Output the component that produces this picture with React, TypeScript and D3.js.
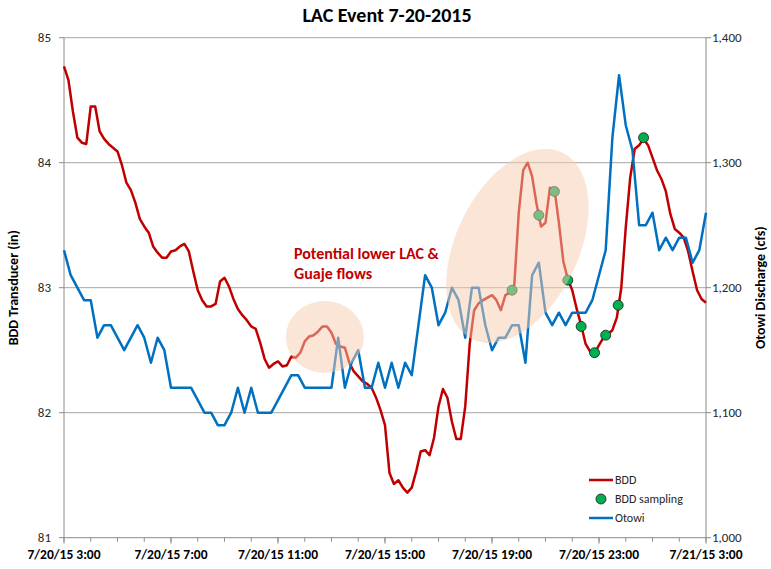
import React from 'react';
import * as d3 from 'd3';

// ---- data ----
const START = '07/20/15 03:00';
const END = '07/21/15 03:00';

// BDD transducer (in), every 10 minutes from 7/20/15 3:00
const bddStepMinutes = 10;
const bddValues = [
  84.77, 84.66, 84.41, 84.2, 84.16, 84.15, 84.45, 84.45, 84.25, 84.19,
  84.15, 84.12, 84.09, 83.98, 83.84, 83.78, 83.68, 83.55, 83.49, 83.44,
  83.33, 83.28, 83.24, 83.24, 83.29, 83.3, 83.33, 83.35, 83.29, 83.13,
  82.98, 82.9, 82.85, 82.85, 82.87, 83.05, 83.08, 83.01, 82.91, 82.83,
  82.78, 82.74, 82.69, 82.67, 82.56, 82.43, 82.36, 82.39, 82.41, 82.37,
  82.38, 82.45, 82.44, 82.48, 82.57, 82.61, 82.62, 82.65, 82.69, 82.69,
  82.64, 82.55, 82.53, 82.52, 82.4, 82.33, 82.29, 82.25, 82.23, 82.2,
  82.12, 82.02, 81.9, 81.52, 81.43, 81.46, 81.4, 81.36, 81.4, 81.53,
  81.69, 81.7, 81.66, 81.8, 82.05, 82.19, 82.12, 81.93, 81.79, 81.79,
  82.05, 82.55, 82.82, 82.875, 82.9, 82.92, 82.94, 82.9, 82.82, 82.94,
  82.96, 83.02, 83.6, 83.94, 84.0, 83.89, 83.67, 83.49, 83.52, 83.8,
  83.79, 83.52, 83.21, 83.07, 82.98, 82.83, 82.7, 82.55, 82.49, 82.475,
  82.54, 82.6, 82.63, 82.66, 82.76, 83.0, 83.48, 83.88, 84.11, 84.14,
  84.19, 84.14, 84.04, 83.94, 83.87, 83.77, 83.59, 83.47, 83.44, 83.4,
  83.29, 83.13, 82.98, 82.91, 82.88,
];

// Otowi discharge (cfs), every 15 minutes from 7/20/15 3:00
const otowiStepMinutes = 15;
const otowiValues = [
  1230, 1210, 1200, 1190, 1190, 1160, 1170, 1170, 1160, 1150,
  1160, 1170, 1160, 1140, 1160, 1150, 1120, 1120, 1120, 1120,
  1110, 1100, 1100, 1090, 1090, 1100, 1120, 1100, 1120, 1100,
  1100, 1100, 1110, 1120, 1130, 1130, 1120, 1120, 1120, 1120,
  1120, 1160, 1120, 1140, 1150, 1120, 1120, 1140, 1120, 1140,
  1120, 1140, 1130, 1170, 1210, 1200, 1170, 1180, 1200, 1190,
  1160, 1200, 1200, 1170, 1150, 1160, 1160, 1170, 1170, 1140,
  1210, 1220, 1180, 1170, 1180, 1170, 1180, 1180, 1180, 1190,
  1210, 1230, 1320, 1370, 1330, 1310, 1250, 1250, 1260, 1230,
  1240, 1230, 1240, 1240, 1220, 1230, 1260,
];

// BDD sampling
const samplingTimes = [
  '07/20/15 19:45', '07/20/15 20:45', '07/20/15 21:20', '07/20/15 21:50', '07/20/15 22:20',
  '07/20/15 22:50', '07/20/15 23:15', '07/20/15 23:43', '07/21/15 00:40',
];
const samplingValues = [82.98, 83.58, 83.77, 83.06, 82.69, 82.48, 82.62, 82.86, 84.2];

const leftTicks = [81, 82, 83, 84, 85];
const rightTicks = [1000, 1100, 1200, 1300, 1400];

const title = 'LAC Event 7-20-2015';
const leftTitle = 'BDD Transducer (in)';
const rightTitle = 'Otowi Discharge (cfs)';
const annotationLines = ['Potential lower LAC &', 'Guaje flows'];
const legendItems = ['BDD', 'BDD sampling', 'Otowi'];

// highlight ellipses: centre (time, BDD value)
const highlightCentres = ['07/20/15 12:45', '07/20/15 19:57'];
const highlightValues = [82.605, 83.334];

const FONT = "Carlito, Calibri, 'Liberation Sans Narrow', 'Open Sans', sans-serif";

export default function App() {
  const W = 771;
  const H = 569;
  const L = 64, R = 706, T = 37.7, B = 537.7;
  const parse = d3.timeParse('%m/%d/%y %H:%M');
  const t0 = parse(START) as Date;
  const t1 = parse(END) as Date;

  const x = d3.scaleTime().domain([t0, t1]).range([L, R]);
  const yL = d3.scaleLinear().domain([81, 85]).range([B, T]);
  const yR = d3.scaleLinear().domain([1000, 1400]).range([B, T]);

  const bdd = bddValues.map((v, i) => ({ t: d3.timeMinute.offset(t0, i * bddStepMinutes), v }));
  const otowi = otowiValues.map((v, i) => ({ t: d3.timeMinute.offset(t0, i * otowiStepMinutes), v }));
  const samples = samplingTimes.map((s, i) => ({ t: parse(s) as Date, v: samplingValues[i] }));

  const bddLine = d3.line<{ t: Date; v: number }>().x(d => x(d.t)).y(d => yL(d.v));
  const otowiLine = d3.line<{ t: Date; v: number }>().x(d => x(d.t)).y(d => yR(d.v));

  const minorTicks = d3.timeHour.range(t0, d3.timeHour.offset(t1, 1), 1);
  const majorTicks = d3.timeHour.range(t0, d3.timeHour.offset(t1, 1), 4);
  const fmt = d3.timeFormat('%-m/%-d/%y %-H:%M');
  const fmtR = d3.format(',');

  const gridColor = '#a6a6a6';
  const axisColor = '#8c8c8c';
  const red = '#C00000';
  const blue = '#0070C0';
  const green = '#00B050';

  const c1x = x(parse(highlightCentres[0]) as Date);
  const c1y = yL(highlightValues[0]);
  const c2x = x(parse(highlightCentres[1]) as Date);
  const c2y = yL(highlightValues[1]);

  return (
    <svg width={W} height={H} style={{ position: 'absolute', left: 0, top: 0, background: '#fff' }} fontFamily={FONT}>
      <rect x={0} y={0} width={W} height={H} fill="#fff" />
      <text x={387} y={22} textAnchor="middle" fontSize={20} fontWeight="bold" fill="#000">{title}</text>

      {/* gridlines */}
      {leftTicks.slice(1).map(v => (
        <line key={v} x1={L} x2={R} y1={yL(v)} y2={yL(v)} stroke={gridColor} strokeWidth={1} />
      ))}
      {/* axes */}
      <line x1={L} x2={L} y1={T} y2={B} stroke={axisColor} strokeWidth={1} />
      <line x1={R} x2={R} y1={T} y2={B} stroke={axisColor} strokeWidth={1} />
      <line x1={L} x2={R} y1={B} y2={B} stroke={axisColor} strokeWidth={1} />
      {leftTicks.map(v => (
        <g key={'l' + v}>
          <line x1={L - 5} x2={L} y1={yL(v)} y2={yL(v)} stroke={axisColor} />
          <text x={L - 13} y={yL(v) + 4} textAnchor="end" fontSize={13} fill="#262626">{v}</text>
        </g>
      ))}
      {rightTicks.map(v => (
        <g key={'r' + v}>
          <line x1={R} x2={R + 5} y1={yR(v)} y2={yR(v)} stroke={axisColor} />
          <text x={R + 6} y={yR(v) + 4} textAnchor="start" fontSize={13} fill="#262626">{fmtR(v)}</text>
        </g>
      ))}
      {minorTicks.map((t, i) => (
        <line key={'m' + i} x1={x(t)} x2={x(t)} y1={B} y2={B + 4} stroke={axisColor} />
      ))}
      {majorTicks.map((t, i) => (
        <g key={'M' + i}>
          <line x1={x(t)} x2={x(t)} y1={B} y2={B + 6} stroke={axisColor} />
          <text x={x(t)} y={559} textAnchor="middle" fontSize={13.5} fontWeight="bold" fill="#000">{fmt(t)}</text>
        </g>
      ))}

      <text transform={`translate(18,${(T + B) / 2}) rotate(-90)`} textAnchor="middle" fontSize={14} fontWeight="bold" fill="#000">{leftTitle}</text>
      <text transform={`translate(765,${(T + B) / 2}) rotate(-90)`} textAnchor="middle" fontSize={14} fontWeight="bold" fill="#000">{rightTitle}</text>

      {/* series */}
      <path d={bddLine(bdd) || ''} fill="none" stroke={red} strokeWidth={2.5} strokeLinejoin="round" />
      <path d={otowiLine(otowi) || ''} fill="none" stroke={blue} strokeWidth={2.5} strokeLinejoin="round" />
      {samples.map((s, i) => (
        <circle key={'s' + i} cx={x(s.t)} cy={yL(s.v)} r={5} fill={green} stroke="#1a1a1a" strokeWidth={0.8} />
      ))}

      {/* highlight ellipses */}
      <ellipse cx={c1x} cy={c1y} rx={39} ry={36} fill="#F8CBAD" fillOpacity={0.5} />
      <ellipse cx={0} cy={0} rx={103.6} ry={61.2} fill="#F8CBAD" fillOpacity={0.5}
        transform={`translate(${c2x},${c2y}) rotate(-64.2)`} />

      {annotationLines.map((s, i) => (
        <text key={'a' + i} x={294} y={259 + i * 20} fontSize={16} fontWeight="bold" fill={red}>{s}</text>
      ))}

      {/* legend */}
      <g fontSize={12} fill="#262626">
        <line x1={589} x2={613} y1={480} y2={480} stroke={red} strokeWidth={2.5} />
        <text x={615} y={484}>{legendItems[0]}</text>
        <circle cx={601} cy={499} r={5} fill={green} stroke="#1a1a1a" strokeWidth={0.8} />
        <text x={615} y={503}>{legendItems[1]}</text>
        <line x1={589} x2={613} y1={518} y2={518} stroke={blue} strokeWidth={2.5} />
        <text x={615} y={522}>{legendItems[2]}</text>
      </g>
    </svg>
  );
}
